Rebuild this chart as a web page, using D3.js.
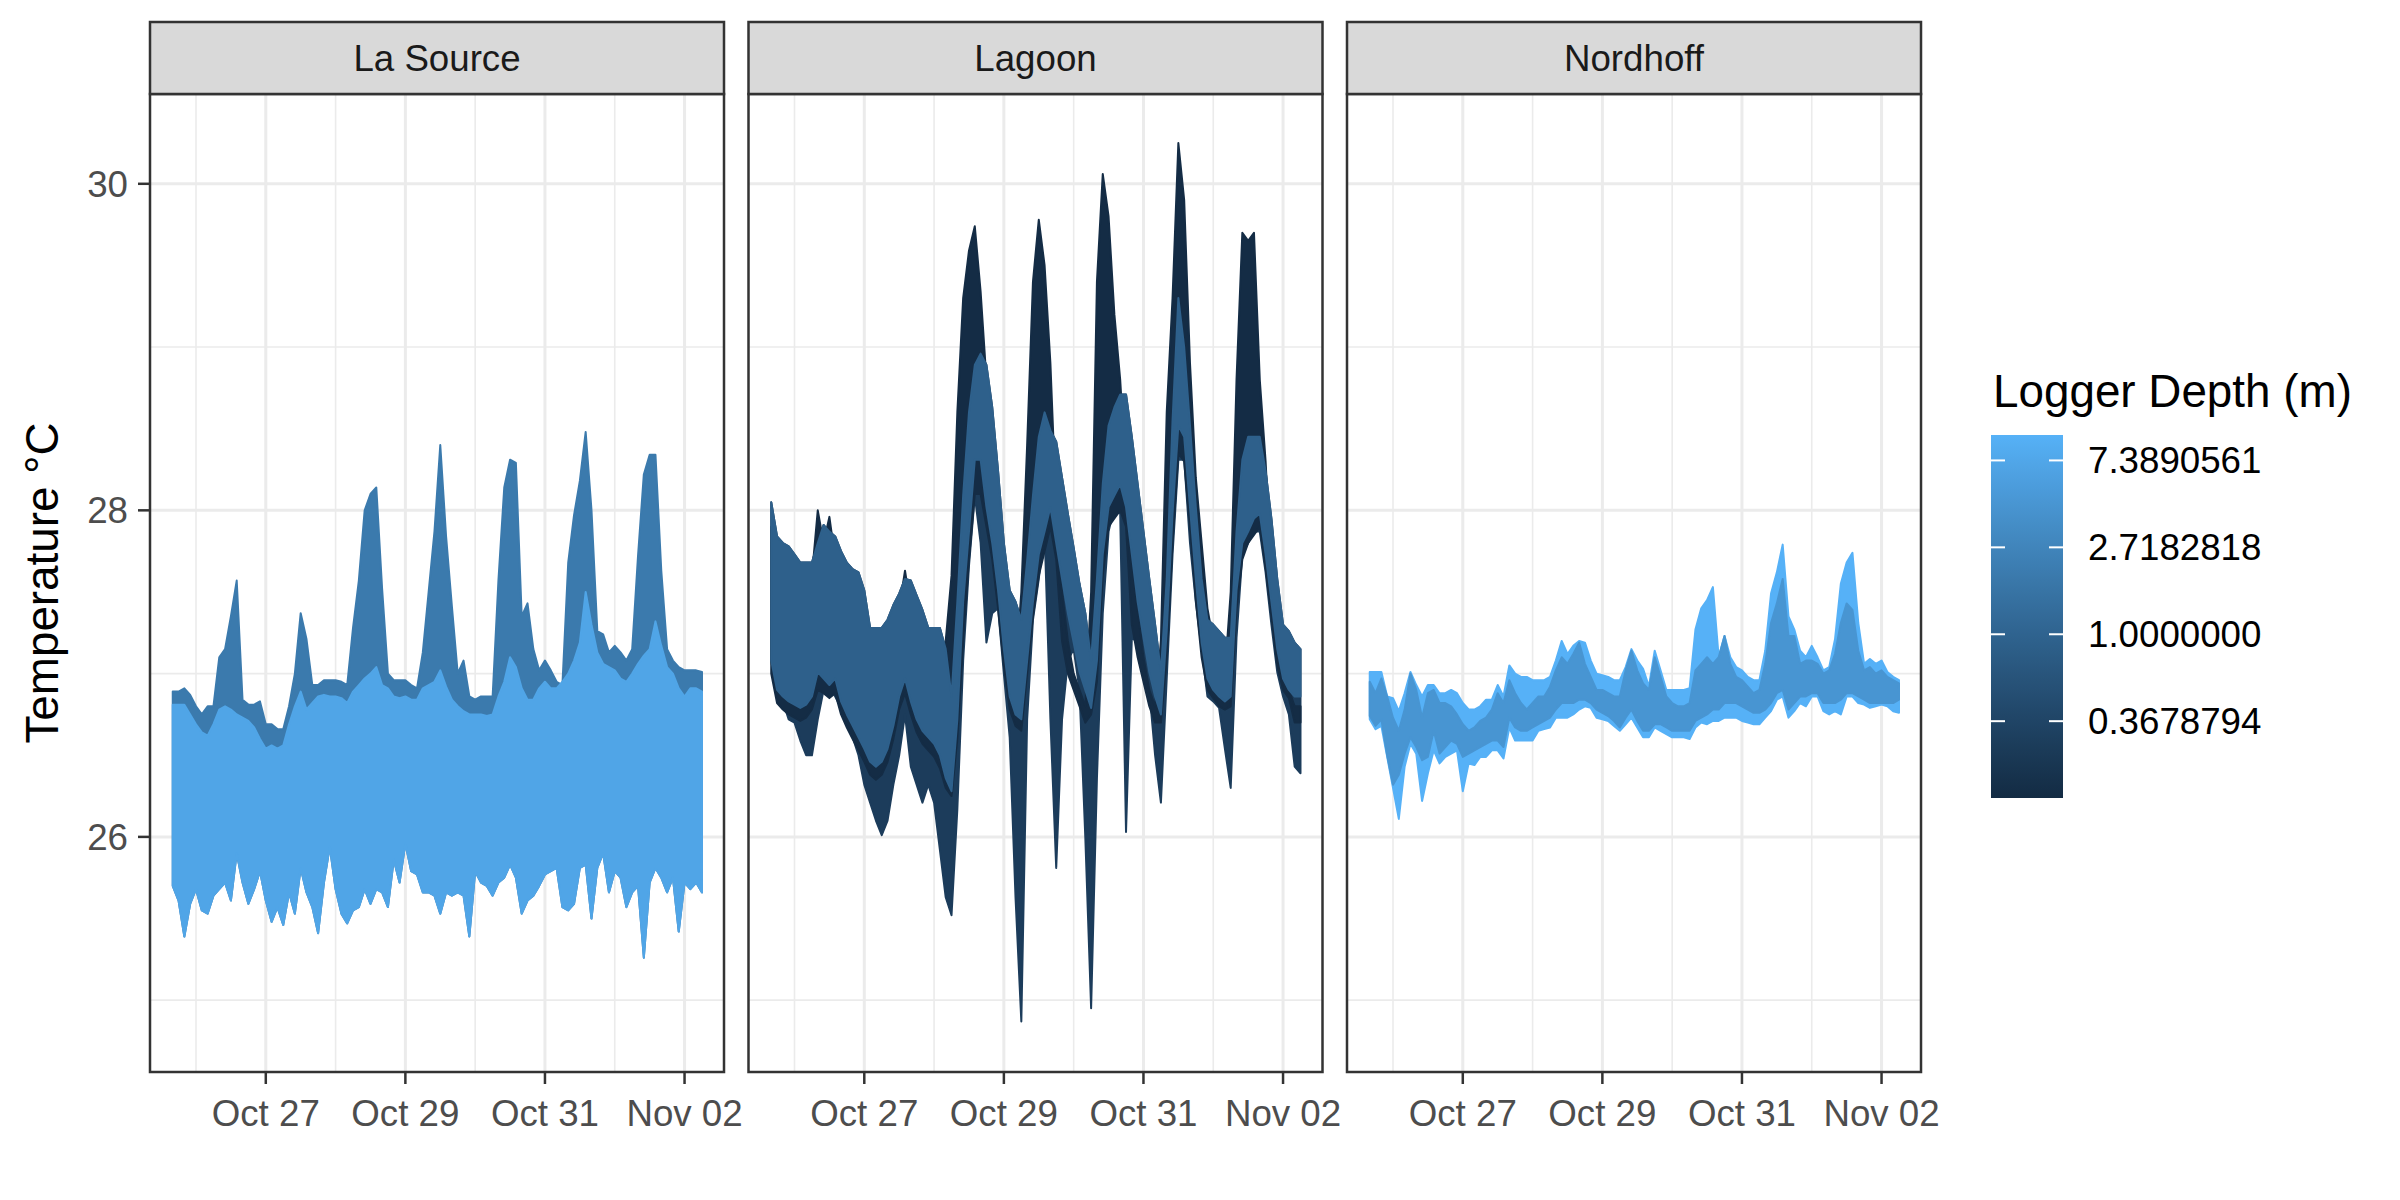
<!DOCTYPE html>
<html>
<head>
<meta charset="utf-8">
<script src="https://cdn.jsdelivr.net/npm/d3@7"></script>
<style>
  body { margin: 0; background: #fff; }
  text { font-family: "Liberation Sans", Arial, sans-serif; }
</style>
</head>
<body>
<svg id="chart" width="2400" height="1200"></svg>
<script>
// ---- data (2-hourly min / max envelopes) ----
var sites = ['La Source', 'Lagoon', 'Nordhoff']
var firstReading = Date.UTC(2019, 9, 25, 16)
var lastReading = Date.UTC(2019, 10, 2, 7)
var times = d3.utcHours(firstReading, lastReading, 2)   // 92 readings

var lsDeepHi = [26.81, 26.81, 26.81, 26.75, 26.69, 26.64, 26.62, 26.69, 26.78, 26.80,
  26.78, 26.75, 26.73, 26.71, 26.67, 26.60, 26.54, 26.56, 26.54, 26.56,
  26.69, 26.80, 26.89, 26.78, 26.82, 26.86, 26.87, 26.86, 26.86, 26.85,
  26.82, 26.89, 26.93, 26.97, 27.00, 27.04, 26.93, 26.91, 26.86, 26.85,
  26.86, 26.84, 26.84, 26.91, 26.93, 26.95, 27.02, 26.92, 26.84, 26.80,
  26.77, 26.75, 26.75, 26.75, 26.74, 26.75, 26.86, 26.95, 27.10, 27.04,
  26.91, 26.84, 26.84, 26.91, 26.95, 26.91, 26.91, 26.95, 27.00, 27.08,
  27.19, 27.50, 27.30, 27.13, 27.06, 27.04, 27.02, 26.97, 26.95, 27.00,
  27.06, 27.11, 27.15, 27.32, 27.17, 27.04, 27.00, 26.91, 26.86, 26.91,
  26.91, 26.89]
var lsDeepLo = [25.70, 25.61, 25.39, 25.59, 25.68, 25.55, 25.53, 25.64, 25.68, 25.72,
  25.61, 25.90, 25.72, 25.59, 25.68, 25.79, 25.61, 25.48, 25.57, 25.46,
  25.66, 25.53, 25.81, 25.66, 25.57, 25.41, 25.72, 25.94, 25.68, 25.53,
  25.47, 25.55, 25.57, 25.68, 25.59, 25.68, 25.66, 25.57, 25.86, 25.72,
  25.96, 25.79, 25.77, 25.66, 25.66, 25.64, 25.53, 25.66, 25.64, 25.66,
  25.64, 25.39, 25.79, 25.72, 25.70, 25.64, 25.72, 25.75, 25.83, 25.75,
  25.53, 25.61, 25.64, 25.70, 25.77, 25.79, 25.81, 25.57, 25.55, 25.59,
  25.81, 25.83, 25.50, 25.81, 25.90, 25.66, 25.79, 25.75, 25.57, 25.66,
  25.70, 25.26, 25.72, 25.81, 25.75, 25.66, 25.75, 25.42, 25.72, 25.68,
  25.72, 25.66]
var lsShallowHi = [26.89, 26.89, 26.91, 26.87, 26.80, 26.75, 26.80, 26.80, 27.10, 27.15,
  27.35, 27.57, 26.84, 26.81, 26.81, 26.83, 26.69, 26.69, 26.66, 26.66,
  26.80, 27.00, 27.37, 27.21, 26.93, 26.93, 26.96, 26.96, 26.96, 26.95,
  26.93, 27.28, 27.57, 28.00, 28.10, 28.14, 27.52, 27.00, 26.96, 26.96,
  26.96, 26.93, 26.91, 27.13, 27.50, 27.87, 28.40, 27.84, 27.41, 27.00,
  27.08, 26.86, 26.84, 26.86, 26.86, 26.86, 27.57, 28.14, 28.31, 28.29,
  27.35, 27.43, 27.15, 27.02, 27.08, 27.02, 26.95, 26.93, 27.68, 27.97,
  28.18, 28.48, 28.00, 27.26, 27.24, 27.13, 27.17, 27.13, 27.08, 27.15,
  27.72, 28.22, 28.34, 28.34, 27.63, 27.15, 27.08, 27.04, 27.02, 27.02,
  27.02, 27.01]

var lagAHi = [28.05, 27.84, 27.80, 27.78, 27.73, 27.68, 27.68, 27.68, 27.80, 27.91,
  27.87, 27.84, 27.75, 27.68, 27.64, 27.62, 27.51, 27.28, 27.28, 27.28,
  27.33, 27.42, 27.49, 27.58, 27.57, 27.48, 27.39, 27.28, 27.28, 27.28,
  27.15, 26.86, 27.44, 28.09, 28.60, 28.89, 28.96, 28.89, 28.63, 28.24,
  27.80, 27.51, 27.44, 27.33, 27.69, 28.09, 28.45, 28.60, 28.49, 28.42,
  28.20, 27.98, 27.77, 27.55, 27.37, 27.08, 27.58, 28.16, 28.52, 28.63,
  28.71, 28.71, 28.45, 28.16, 27.87, 27.58, 27.30, 27.01, 27.58, 28.55,
  29.30, 29.00, 28.52, 28.02, 27.58, 27.33, 27.30, 27.26, 27.22, 27.22,
  27.87, 28.31, 28.45, 28.45, 28.45, 28.24, 27.95, 27.58, 27.30, 27.26,
  27.19, 27.15]
var lagALo = [27.08, 26.90, 26.86, 26.83, 26.81, 26.79, 26.81, 26.86, 27.01, 26.97,
  26.93, 26.97, 26.83, 26.75, 26.68, 26.61, 26.54, 26.46, 26.43, 26.46,
  26.54, 26.68, 26.86, 26.97, 26.83, 26.72, 26.65, 26.61, 26.57, 26.50,
  26.36, 26.28, 26.72, 27.44, 27.87, 28.31, 28.31, 28.02, 27.80, 27.51,
  27.15, 26.86, 26.75, 26.72, 27.08, 27.44, 27.73, 27.87, 28.02, 27.80,
  27.58, 27.37, 27.19, 27.01, 26.90, 26.79, 27.08, 27.73, 28.02, 28.09,
  28.16, 28.02, 27.73, 27.44, 27.22, 27.01, 26.86, 26.75, 27.26, 27.98,
  28.52, 28.45, 28.02, 27.58, 27.19, 26.97, 26.90, 26.86, 26.83, 26.86,
  27.51, 27.80, 27.87, 27.95, 27.98, 27.73, 27.44, 27.15, 26.97, 26.90,
  26.86, 26.86]
var lagBLo = [27.08, 26.86, 26.83, 26.72, 26.70, 26.59, 26.50, 26.50, 26.72, 26.90,
  26.92, 26.86, 26.79, 26.72, 26.61, 26.50, 26.32, 26.21, 26.10, 26.01,
  26.10, 26.32, 26.50, 26.75, 26.43, 26.32, 26.21, 26.32, 26.21, 25.92,
  25.63, 25.52, 26.17, 27.08, 27.66, 28.09, 27.80, 27.19, 27.37, 27.40,
  27.00, 26.61, 25.63, 24.87, 26.72, 27.33, 27.58, 27.87, 26.72, 25.81,
  26.72, 27.08, 27.15, 26.90, 26.00, 24.95, 26.36, 27.37, 27.87, 28.02,
  27.98, 26.03, 27.22, 27.19, 27.08, 26.90, 26.50, 26.21, 26.97, 27.73,
  28.31, 28.31, 27.80, 27.44, 27.15, 26.86, 26.83, 26.79, 26.54, 26.30,
  27.22, 27.73, 27.80, 27.87, 27.87, 27.62, 27.30, 27.01, 26.86, 26.75,
  26.43, 26.39]
var lagCHi = [27.90, 27.70, 27.60, 27.60, 27.50, 27.50, 27.50, 27.60, 28.00, 27.80,
  27.96, 27.70, 27.50, 27.40, 27.30, 27.20, 27.10, 27.00, 26.90, 27.00,
  27.10, 27.30, 27.40, 27.63, 27.40, 27.30, 27.20, 27.10, 27.10, 27.10,
  27.20, 27.60, 28.60, 29.30, 29.59, 29.74, 29.34, 28.80, 28.30, 27.90,
  27.50, 27.20, 27.00, 27.50, 28.40, 29.40, 29.78, 29.50, 28.90, 28.00,
  27.50, 27.20, 27.00, 26.90, 26.80, 27.50, 29.40, 30.06, 29.80, 29.20,
  28.80, 28.20, 27.70, 27.40, 27.10, 26.90, 26.80, 27.20, 28.60, 29.30,
  30.25, 29.90, 28.90, 28.20, 27.80, 27.40, 27.20, 27.10, 27.00, 27.50,
  28.80, 29.70, 29.65, 29.70, 28.80, 28.30, 27.60, 27.20, 27.00, 26.90,
  26.80, 26.80]
var lagCLo = [27.00, 26.82, 26.78, 26.75, 26.73, 26.71, 26.73, 26.78, 26.90, 26.88,
  26.85, 26.88, 26.75, 26.67, 26.60, 26.53, 26.46, 26.38, 26.35, 26.38,
  26.46, 26.60, 26.78, 26.88, 26.75, 26.64, 26.57, 26.53, 26.49, 26.42,
  26.30, 26.25, 26.60, 27.20, 27.70, 28.10, 28.10, 27.90, 27.70, 27.40,
  27.05, 26.78, 26.68, 26.65, 27.00, 27.35, 27.60, 27.75, 27.90, 27.70,
  27.20, 27.00, 26.90, 26.80, 26.70, 26.75, 26.95, 27.60, 27.90, 27.95,
  28.00, 27.90, 27.30, 27.10, 26.95, 26.80, 26.70, 26.70, 27.10, 27.80,
  28.35, 28.30, 27.90, 27.45, 27.10, 26.90, 26.85, 26.80, 26.78, 26.80,
  27.40, 27.70, 27.80, 27.85, 27.90, 27.65, 27.35, 27.05, 26.90, 26.85,
  26.70, 26.70]

var nordDeepHi = [27.01, 27.01, 27.01, 26.86, 26.85, 26.77, 26.88, 27.01, 26.93, 26.86,
  26.93, 26.93, 26.88, 26.88, 26.90, 26.88, 26.82, 26.78, 26.78, 26.80,
  26.84, 26.84, 26.93, 26.86, 27.05, 27.00, 26.98, 26.98, 26.96, 26.96,
  26.96, 26.98, 27.08, 27.20, 27.12, 27.17, 27.20, 27.19, 27.08, 27.00,
  26.99, 26.98, 26.96, 26.96, 27.04, 27.15, 27.08, 27.03, 26.92, 27.14,
  27.02, 26.90, 26.90, 26.90, 26.90, 26.91, 27.27, 27.40, 27.45, 27.53,
  27.10, 27.23, 27.10, 27.04, 27.02, 26.98, 26.96, 26.96, 27.14, 27.49,
  27.62, 27.79, 27.35, 27.27, 27.14, 27.10, 27.17, 27.10, 27.02, 27.04,
  27.21, 27.55, 27.68, 27.74, 27.31, 27.06, 27.09, 27.06, 27.08, 27.01,
  26.98, 26.96]
var nordDeepLo = [26.72, 26.66, 26.68, 26.49, 26.30, 26.11, 26.43, 26.57, 26.51, 26.22,
  26.39, 26.53, 26.45, 26.49, 26.51, 26.53, 26.28, 26.45, 26.44, 26.49,
  26.49, 26.53, 26.53, 26.48, 26.67, 26.59, 26.59, 26.59, 26.59, 26.65,
  26.66, 26.67, 26.73, 26.73, 26.73, 26.75, 26.78, 26.80, 26.79, 26.73,
  26.72, 26.71, 26.68, 26.65, 26.69, 26.73, 26.67, 26.61, 26.61, 26.67,
  26.65, 26.63, 26.61, 26.61, 26.61, 26.60, 26.67, 26.70, 26.69, 26.71,
  26.71, 26.73, 26.73, 26.73, 26.71, 26.70, 26.69, 26.69, 26.73, 26.77,
  26.84, 26.86, 26.73, 26.77, 26.82, 26.80, 26.86, 26.86, 26.77, 26.75,
  26.77, 26.75, 26.86, 26.86, 26.82, 26.81, 26.79, 26.80, 26.81, 26.80,
  26.77, 26.76]
var nordMidHi = [26.95, 26.88, 26.97, 26.86, 26.73, 26.65, 26.78, 27.00, 26.90, 26.73,
  26.88, 26.90, 26.82, 26.82, 26.80, 26.75, 26.69, 26.65, 26.67, 26.71,
  26.73, 26.78, 26.88, 26.82, 26.96, 26.88, 26.82, 26.78, 26.82, 26.86,
  26.86, 26.92, 27.02, 27.10, 27.06, 27.12, 27.19, 27.06, 26.98, 26.90,
  26.90, 26.88, 26.86, 26.86, 27.02, 27.14, 27.02, 26.94, 26.90, 27.10,
  26.98, 26.86, 26.82, 26.80, 26.80, 26.82, 27.02, 27.06, 27.10, 27.06,
  27.10, 27.23, 27.06, 26.98, 26.96, 26.92, 26.88, 26.90, 27.06, 27.31,
  27.43, 27.58, 27.23, 27.23, 27.06, 27.08, 27.08, 27.06, 27.00, 27.02,
  27.12, 27.31, 27.43, 27.39, 27.14, 27.02, 27.04, 27.00, 27.02, 26.98,
  26.96, 26.94]
var nordMidLo = [26.74, 26.68, 26.72, 26.50, 26.32, 26.38, 26.51, 26.61, 26.55, 26.47,
  26.49, 26.65, 26.51, 26.55, 26.59, 26.57, 26.49, 26.51, 26.53, 26.55,
  26.57, 26.59, 26.59, 26.55, 26.73, 26.67, 26.65, 26.65, 26.67, 26.69,
  26.71, 26.73, 26.78, 26.82, 26.82, 26.82, 26.84, 26.84, 26.82, 26.78,
  26.76, 26.74, 26.71, 26.67, 26.73, 26.78, 26.71, 26.65, 26.65, 26.69,
  26.69, 26.67, 26.65, 26.65, 26.65, 26.65, 26.71, 26.73, 26.75, 26.78,
  26.78, 26.82, 26.82, 26.82, 26.80, 26.78, 26.76, 26.76, 26.78, 26.82,
  26.88, 26.90, 26.78, 26.82, 26.86, 26.86, 26.88, 26.88, 26.82, 26.82,
  26.82, 26.84, 26.88, 26.88, 26.86, 26.84, 26.82, 26.82, 26.82, 26.82,
  26.82, 26.84]

// loggers in drawing order; hidden lower edges reuse the neighbouring envelope
var loggers = [
  { site: 'La Source', depth: 2.0, hi: lsShallowHi, lo: lsDeepLo },
  { site: 'La Source', depth: 7.0, hi: lsDeepHi, lo: lsDeepLo },
  { site: 'Lagoon', depth: 0.28, hi: lagAHi, lo: lagBLo },
  { site: 'Lagoon', depth: 0.16, hi: lagCHi, lo: lagCLo },
  { site: 'Lagoon', depth: 0.9, hi: lagAHi, lo: lagALo },
  { site: 'Nordhoff', depth: 9.9, hi: nordDeepHi, lo: nordDeepLo },
  { site: 'Nordhoff', depth: 4.5, hi: nordMidHi, lo: nordMidLo }
]

var depthLimits = [0.152, 9.9]
var legendBreaks = [Math.exp(-1), 1, Math.E, Math.exp(2)]
var tempMajor = [26, 28, 30]
var tempMinor = [25, 27, 29]
var dateMajor = [Date.UTC(2019, 9, 27), Date.UTC(2019, 9, 29), Date.UTC(2019, 9, 31), Date.UTC(2019, 10, 2)]
var dateMinor = [Date.UTC(2019, 9, 26), Date.UTC(2019, 9, 28), Date.UTC(2019, 9, 30), Date.UTC(2019, 10, 1)]
var xLimits = [Date.UTC(2019, 9, 25, 8, 11), Date.UTC(2019, 10, 2, 13, 34)]
var yLimits = [24.56, 30.55]

// ---- layout ----
var svg = d3.select('#chart')
var panelW = 574
var panelStep = 598.5
var stripTop = 22
var panelTop = 94
var panelBottom = 1072
var grey20 = '#333333'

var x = d3.scaleUtc().domain(xLimits).range([0, panelW])
var y = d3.scaleLinear().domain(yLimits).range([panelBottom, panelTop])
var colour = d3.scaleLog().domain(depthLimits)
  .range(['#132B43', '#56B1F7']).interpolate(d3.interpolateLab)
var fmt = d3.utcFormat('%b %d')

var area = d3.area()
  .x(function(d) { return x(d.t) })
  .y0(function(d) { return y(d.lo) })
  .y1(function(d) { return y(d.hi) })

function hline(g, v, w) {
  g.append('line').attr('x1', 0).attr('x2', panelW).attr('y1', y(v)).attr('y2', y(v))
    .attr('stroke', '#EBEBEB').attr('stroke-width', w)
}
function vline(g, d, w) {
  g.append('line').attr('x1', x(d)).attr('x2', x(d)).attr('y1', panelTop).attr('y2', panelBottom)
    .attr('stroke', '#EBEBEB').attr('stroke-width', w)
}

sites.forEach(function(site, k) {
  var g = svg.append('g').attr('transform', 'translate(' + (150 + k * panelStep) + ',0)')

  // grid
  tempMinor.forEach(function(v) { hline(g, v, 1.6) })
  dateMinor.forEach(function(d) { vline(g, d, 1.6) })
  tempMajor.forEach(function(v) { hline(g, v, 3) })
  dateMajor.forEach(function(d) { vline(g, d, 3) })

  // traces
  loggers.filter(function(l) { return l.site === site }).forEach(function(l) {
    var rows = times.map(function(t, i) { return { t: t, hi: l.hi[i], lo: l.lo[i] } })
    g.append('path').datum(rows).attr('d', area)
      .attr('fill', colour(l.depth)).attr('stroke', colour(l.depth))
      .attr('stroke-width', 2).attr('stroke-linejoin', 'round')
  })

  // border + strip
  g.append('rect').attr('x', 0).attr('y', panelTop)
    .attr('width', panelW).attr('height', panelBottom - panelTop)
    .attr('fill', 'none').attr('stroke', grey20).attr('stroke-width', 2.5)
  g.append('rect').attr('x', 0).attr('y', stripTop)
    .attr('width', panelW).attr('height', panelTop - stripTop)
    .attr('fill', '#D9D9D9').attr('stroke', grey20).attr('stroke-width', 2.5)
  g.append('text').attr('x', panelW / 2).attr('y', (stripTop + panelTop) / 2 + 13)
    .attr('text-anchor', 'middle').attr('font-size', 36.7).attr('fill', '#1A1A1A')
    .text(site)

  // x axis
  dateMajor.forEach(function(d) {
    g.append('line').attr('x1', x(d)).attr('x2', x(d))
      .attr('y1', panelBottom).attr('y2', panelBottom + 12)
      .attr('stroke', grey20).attr('stroke-width', 2.5)
    g.append('text').attr('x', x(d)).attr('y', 1126)
      .attr('text-anchor', 'middle').attr('font-size', 36.7).attr('fill', '#4D4D4D')
      .text(fmt(new Date(d)))
  })

  // y axis on first panel only
  if (k === 0) {
    tempMajor.forEach(function(v) {
      g.append('line').attr('x1', -12).attr('x2', 0).attr('y1', y(v)).attr('y2', y(v))
        .attr('stroke', grey20).attr('stroke-width', 2.5)
      g.append('text').attr('x', -22).attr('y', y(v) + 13)
        .attr('text-anchor', 'end').attr('font-size', 36.7).attr('fill', '#4D4D4D')
        .text(v)
    })
  }
})

svg.append('text').attr('transform', 'translate(58,' + (panelTop + panelBottom) / 2 + ') rotate(-90)')
  .attr('text-anchor', 'middle').attr('font-size', 45.8).attr('fill', '#000')
  .text('Temperature \u00B0C')

// ---- legend ----
var barX = 1991, barW = 72, barTop = 435, barBottom = 798
var ly = d3.scaleLog().domain(depthLimits).range([barBottom, barTop])
var grad = svg.append('defs').append('linearGradient').attr('id', 'depthGrad')
  .attr('x1', 0).attr('y1', 1).attr('x2', 0).attr('y2', 0)
d3.range(0, 1.0001, 0.05).forEach(function(f) {
  grad.append('stop').attr('offset', f).attr('stop-color', colour(ly.invert(barBottom - f * (barBottom - barTop))))
})
svg.append('text').attr('x', 1993).attr('y', 407).attr('font-size', 45.8).attr('fill', '#000')
  .text('Logger Depth (m)')
svg.append('rect').attr('x', barX).attr('y', barTop).attr('width', barW)
  .attr('height', barBottom - barTop).attr('fill', 'url(#depthGrad)')
legendBreaks.forEach(function(b) {
  var yy = ly(b)
  svg.append('line').attr('x1', barX).attr('x2', barX + 14).attr('y1', yy).attr('y2', yy)
    .attr('stroke', '#fff').attr('stroke-width', 2)
  svg.append('line').attr('x1', barX + barW - 14).attr('x2', barX + barW).attr('y1', yy).attr('y2', yy)
    .attr('stroke', '#fff').attr('stroke-width', 2)
  svg.append('text').attr('x', 2088).attr('y', yy + 13).attr('font-size', 36.7).attr('fill', '#000')
    .text(d3.format('.7f')(b))
})
</script>
</body>
</html>
